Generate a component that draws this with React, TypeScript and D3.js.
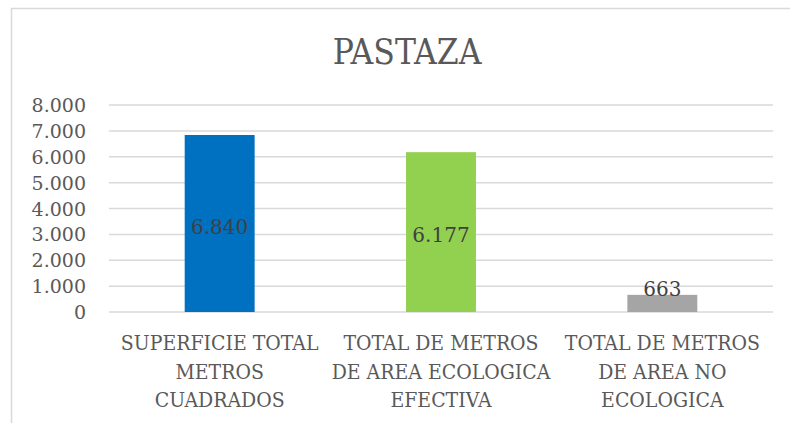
import * as d3 from 'd3';
import { useEffect, useRef } from 'react';

const categories = [
  ['SUPERFICIE TOTAL', 'METROS', 'CUADRADOS'],
  ['TOTAL DE METROS', 'DE AREA ECOLOGICA', 'EFECTIVA'],
  ['TOTAL DE METROS', 'DE AREA NO', 'ECOLOGICA'],
];
const values = [6840, 6177, 663];
const valueLabels = ['6.840', '6.177', '663'];
const barColors = ['#0070C0', '#92D050', '#A5A5A5'];
const yTicks = [0, 1000, 2000, 3000, 4000, 5000, 6000, 7000, 8000];
const yTickLabels = ['0', '1.000', '2.000', '3.000', '4.000', '5.000', '6.000', '7.000', '8.000'];
const title = 'PASTAZA';

const W = 790;
const H = 423;
const FONT = '"DejaVu Serif", serif';
const FONT_NARROW = '"DejaVu Serif Condensed", "DejaVu Serif", serif';

export default function App() {
  const ref = useRef<SVGSVGElement>(null);

  useEffect(() => {
    const svg = d3.select(ref.current);
    svg.selectAll('*').remove();

    const left = 109;
    const right = 773;
    const top = 105;
    const bottom = 312;

    // chart frame
    svg.append('path')
      .attr('d', `M11.5,${H} V8.5 H${W}`)
      .attr('fill', 'none')
      .attr('stroke', '#d9d9d9')
      .attr('stroke-width', 1.5);

    svg.append('text')
      .attr('x', 407)
      .attr('y', 64)
      .attr('text-anchor', 'middle')
      .attr('font-family', FONT_NARROW)
      .attr('font-stretch', 'condensed')
      .attr('font-size', 35)
      .attr('fill', '#595959')
      .text(title);

    const x = d3.scaleBand<number>()
      .domain(d3.range(values.length))
      .range([left, right])
      .paddingInner(0.684)
      .paddingOuter(0.342);

    const y = d3.scaleLinear()
      .domain([0, 8000])
      .range([bottom, top]);

    // gridlines
    svg.append('g')
      .selectAll('line')
      .data(yTicks)
      .enter()
      .append('line')
      .attr('x1', left)
      .attr('x2', right)
      .attr('y1', (d) => y(d))
      .attr('y2', (d) => y(d))
      .attr('stroke', '#d9d9d9')
      .attr('stroke-width', 1.5);

    // y labels
    svg.append('g')
      .selectAll('text')
      .data(yTicks)
      .enter()
      .append('text')
      .attr('x', 86)
      .attr('y', (d) => y(d) + 7)
      .attr('text-anchor', 'end')
      .attr('font-family', FONT)
      .attr('font-size', 19)
      .attr('fill', '#595959')
      .text((d, i) => yTickLabels[i]);

    // bars
    svg.append('g')
      .selectAll('rect')
      .data(values)
      .enter()
      .append('rect')
      .attr('x', (d, i) => x(i)!)
      .attr('y', (d) => y(d))
      .attr('width', x.bandwidth())
      .attr('height', (d) => y(0) - y(d))
      .attr('fill', (d, i) => barColors[i]);

    // value labels
    svg.append('g')
      .selectAll('text')
      .data(values)
      .enter()
      .append('text')
      .attr('x', (d, i) => x(i)! + x.bandwidth() / 2)
      .attr('y', (d) => {
        const h = y(0) - y(d);
        return h < 30 ? y(d) + 1 : (y(d) + y(0)) / 2 + 10;
      })
      .attr('text-anchor', 'middle')
      .attr('font-family', FONT)
      .attr('font-size', 20)
      .attr('fill', '#404040')
      .text((d, i) => valueLabels[i]);

    // category labels
    const cat = svg.append('g')
      .selectAll('text')
      .data(categories)
      .enter()
      .append('text')
      .attr('text-anchor', 'middle')
      .attr('font-family', FONT_NARROW)
      .attr('font-stretch', 'condensed')
      .attr('font-size', 21)
      .attr('fill', '#595959');
    cat.selectAll('tspan')
      .data((d, i) => d.map((line) => ({ line, i })))
      .enter()
      .append('tspan')
      .attr('x', (d) => x(d.i)! + x.bandwidth() / 2)
      .attr('y', (d, j) => 350 + j * 28.5)
      .text((d) => d.line);
  }, []);

  return (
    <svg ref={ref} width={W} height={H} style={{ position: 'absolute', left: 0, top: 0 }} />
  );
}
